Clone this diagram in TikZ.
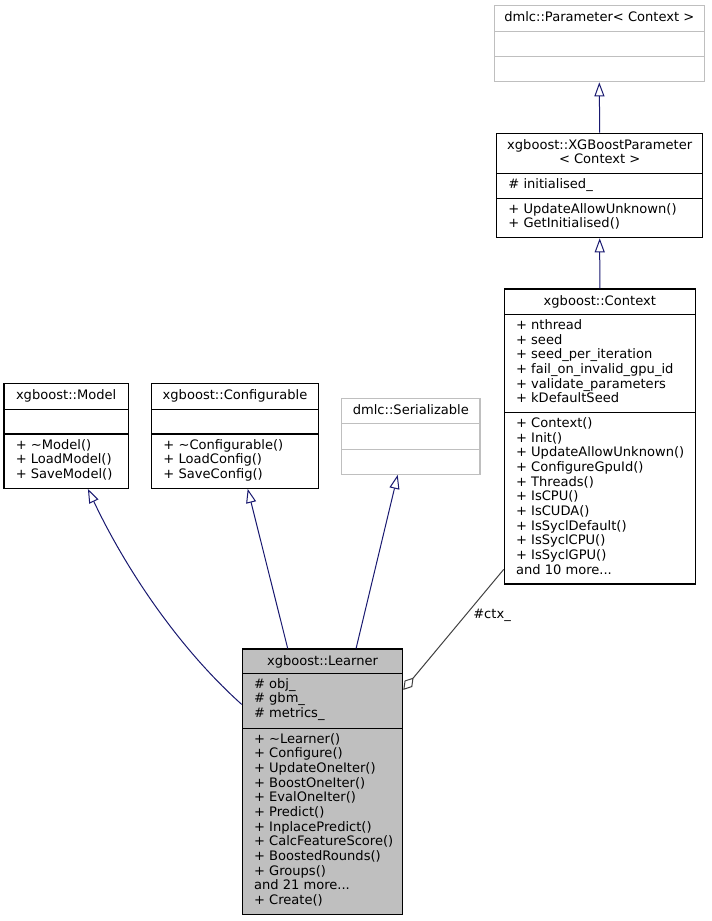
\documentclass[tikz,border=0pt]{standalone}
\usepackage{fontspec}
\setmainfont{DejaVu Sans}
\usetikzlibrary{arrows.meta,calc}
\definecolor{edgeblue}{RGB}{25,25,112}
\definecolor{boxgray}{RGB}{191,191,191}
\definecolor{agggray}{RGB}{64,64,64}
\newcommand\mydots{...}
\begin{document}
\begin{tikzpicture}[x=0.75pt,y=-0.75pt,
  txt/.style={inner sep=0pt, font=\fontsize{9.8}{11}\selectfont, anchor=base west},
  ttl/.style={inner sep=0pt, font=\fontsize{9.8}{11}\selectfont, anchor=base},
  cls/.style 2 args={draw=black, line width=0.9pt, minimum width=#1*0.75pt, minimum height=#2*0.75pt, inner sep=0pt},
  ext/.style 2 args={draw=boxgray, line width=0.9pt, minimum width=#1*0.75pt, minimum height=#2*0.75pt, inner sep=0pt},
  divblack/.style={draw=black, line width=0.9pt},
  divgray/.style={draw=boxgray, line width=0.9pt},
  inh/.style={draw=edgeblue, line width=0.75pt, -{Triangle[open, length=10.5pt, width=7.5pt]}},
  agg/.style={draw=agggray, line width=0.75pt, -{Diamond[open, length=12pt, width=7.5pt]}}
]
\useasboundingbox (0,0) rectangle (711,921);

% dmlc::Parameter< Context >
\node[ext={210}{76.2}] (param) at (599.3,43.6) {};
\node[ttl] (paramt) at (599.3,21.5) {dmlc::Parameter< Context >};
\draw[divgray] (494.3,31.7) -- (704.3,31.7);
\draw[divgray] (494.3,56.7) -- (704.3,56.7);

% xgboost::XGBoostParameter< Context >
\node[cls={206}{104.4}] (xgb) at (599.7,185.5) {};
\node[ttl] (xgbt1) at (599.7,149.3) {xgboost::XGBoostParameter};
\node[ttl] (xgbt2) at (599.7,163) {< Context >};
\draw[divblack] (496.7,173.3) -- (702.7,173.3);
\node[txt] (xgbf) at (508.2,188.3) {\# initialised\_};
\draw[divblack] (496.7,198.3) -- (702.7,198.3);
\node[txt] (xgbm1) at (508.2,213.3) {+ UpdateAllowUnknown()};
\node[txt] (xgbm2) at (508.2,227.9) {+ GetInitialised()};

% xgboost::Context
\node[cls={191}{295}] (context) at (599.8,436.5) {};
\node[ttl] (contextt) at (599.8,305) {xgboost::Context};
\draw[divblack] (504.3,314.5) -- (695.3,314.5);
\foreach \t [count=\i from 0] in {+ nthread, + seed, + seed\_per\_iteration, + fail\_on\_invalid\_gpu\_id, + validate\_parameters, + kDefaultSeed}
  \node[txt] (ctxf\i) at (515.8,{329.5+14.64*\i}) {\t};
\draw[divblack] (504.3,412.7) -- (695.3,412.7);
\foreach \t [count=\i from 0] in {+ Context(), + Init(), + UpdateAllowUnknown(), + ConfigureGpuId(), + Threads(), + IsCPU(), + IsCUDA(), + IsSyclDefault(), + IsSyclCPU(), + IsSyclGPU(), and 10 more\mydots}
  \node[txt] (ctxm\i) at (515.8,{427.7+14.64*\i}) {\t};

% xgboost::Model
\node[cls={124.3}{104.8}] (model) at (66.15,435.9) {};
\node[ttl] (modelt) at (66.15,399.5) {xgboost::Model};
\draw[divblack] (4,409.3) -- (128.3,409.3);
\draw[divblack] (4,434) -- (128.3,434);
\foreach \t [count=\i from 0] in {+ \textasciitilde Model(), + LoadModel(), + SaveModel()}
  \node[txt] (modelm\i) at (15.5,{449+14.64*\i}) {\t};

% xgboost::Configurable
\node[cls={166.6}{104.8}] (conf) at (235,435.9) {};
\node[ttl] (conft) at (235,399.5) {xgboost::Configurable};
\draw[divblack] (151.7,409.3) -- (318.3,409.3);
\draw[divblack] (151.7,434) -- (318.3,434);
\foreach \t [count=\i from 0] in {+ \textasciitilde Configurable(), + LoadConfig(), + SaveConfig()}
  \node[txt] (confm\i) at (163.2,{449+14.64*\i}) {\t};

% dmlc::Serializable
\node[ext={138.3}{76}] (serial) at (410.85,436.3) {};
\node[ttl] (serialt) at (410.85,414.3) {dmlc::Serializable};
\draw[divgray] (341.7,423.3) -- (480,423.3);
\draw[divgray] (341.7,449.3) -- (480,449.3);

% xgboost::Learner
\node[cls={160.4}{265.7}, fill=boxgray] (learner) at (322.5,781.85) {};
\node[ttl] (learnert) at (322.5,665) {xgboost::Learner};
\draw[divblack] (242.3,673.3) -- (402.7,673.3);
\foreach \t [count=\i from 0] in {\# obj\_, \# gbm\_, \# metrics\_}
  \node[txt] (learnerf\i) at (253.8,{688.3+14.64*\i}) {\t};
\draw[divblack] (242.3,728.3) -- (402.7,728.3);
\foreach \t [count=\i from 0] in {+ \textasciitilde Learner(), + Configure(), + UpdateOneIter(), + BoostOneIter(), + EvalOneIter(), + Predict(), + InplacePredict(), + CalcFeatureScore(), + BoostedRounds(), + Groups(), and 21 more\mydots, + Create()}
  \node[txt] (learnerm\i) at (253.8,{743.3+14.64*\i}) {\t};

% connectors
\draw[inh] (xgb.north) -- (param.south);
\draw[inh] (context.north) -- (xgb.south);
\draw[inh] ($(learner.north west)+(0,56)$) .. controls (170,640) and (119,555) .. ($(model.south west)+(84.5,0)$);
\draw[inh] ($(learner.north west)+(46,0)$) -- ($(conf.south west)+(96.6,0)$);
\draw[inh] ($(learner.north west)+(114.4,0)$) -- ($(serial.south west)+(56.6,0)$);
\draw[agg] ($(context.north west)+(0,281)$) -- node[pos=0.5, anchor=center, xshift=28.9pt, yshift=10.5pt, font=\fontsize{9.8}{11}\selectfont, inner sep=0pt] (ctxlabel) {\#ctx\_} ($(learner.north east)+(0,41.5)$);
\end{tikzpicture}
\end{document}
